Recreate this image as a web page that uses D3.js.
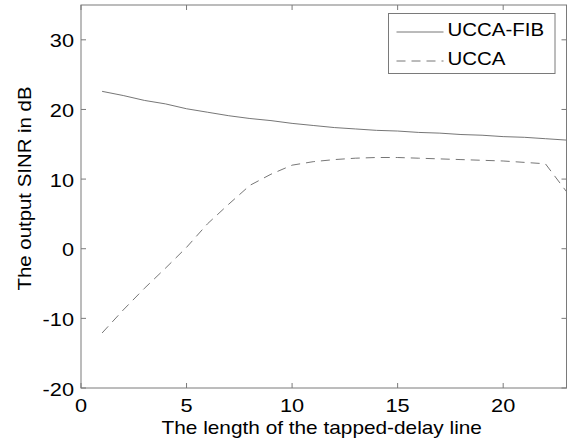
<!DOCTYPE html>
<html>
<head>
<meta charset="utf-8">
<script src="https://cdn.jsdelivr.net/npm/d3@7"></script>
<style>
  body { margin: 0; background: #fff; }
  svg { display: block; font-family: "Liberation Sans", Arial, sans-serif; }
  .axis-line { stroke: #7a7a7a; stroke-width: 1; fill: none; }
  .tick-label { font-size: 18.6px; fill: #000; }
  .axis-title { font-size: 17.8px; fill: #000; }
  .y-title { font-size: 19px; fill: #000; }
  .legend-text { font-size: 17.5px; fill: #000; }
</style>
</head>
<body>
<script>
// Data
var tapLengths = d3.range(1, 24); // 1..23
var uccaFib = [22.6, 22.0, 21.3, 20.8, 20.1, 19.6, 19.1, 18.7, 18.4, 18.0,
               17.7, 17.4, 17.2, 17.0, 16.9, 16.7, 16.6, 16.4, 16.3, 16.1,
               16.0, 15.8, 15.6];
var ucca = [-12.1, -8.8, -5.7, -2.8, 0.2, 3.6, 6.4, 9.1, 10.7, 12.0,
            12.5, 12.8, 13.0, 13.1, 13.1, 13.0, 12.9, 12.8, 12.7, 12.6,
            12.4, 12.2, 8.2];
var xTicks = [0, 5, 10, 15, 20];
var yTicks = [-20, -10, 0, 10, 20, 30];
var seriesNames = ["UCCA-FIB", "UCCA"];

// the reference text is a bit wider than plain Arial
function widen(sel, k) {
    sel.each(function() {
        var len = this.getComputedTextLength();
        d3.select(this)
            .attr("textLength", len * k)
            .attr("lengthAdjust", "spacingAndGlyphs");
    });
}

var sinrChart = {
    margin: { top: 5, right: 1.5, bottom: 55, left: 81 },
    get width() {
        return 568 - this.margin.left - this.margin.right;
    },
    get height() {
        return 443 - this.margin.top - this.margin.bottom;
    },
    tickLen: 5,
    stretch: 1.17,

    setupSVG: function() {
        this.svg = d3.select("body").append("svg")
            .attr("width", 568)
            .attr("height", 443)
            .append("g")
            .attr("transform", "translate(" + this.margin.left + "," + this.margin.top + ")");

        this.x = d3.scaleLinear().domain([0, 23]).range([0, this.width]);
        this.y = d3.scaleLinear().domain([-20, 35]).range([this.height, 0]);
    },

    drawAxes: function() {
        var svg = this.svg, x = this.x, y = this.y, w = this.width, h = this.height, t = this.tickLen;

        // ticks on all four sides, pointing inward (matlab box)
        svg.selectAll(".xtick-b").data(xTicks).enter().append("line")
            .attr("class", "axis-line")
            .attr("x1", d => x(d)).attr("x2", d => x(d))
            .attr("y1", h).attr("y2", h - t);
        svg.selectAll(".xtick-t").data(xTicks).enter().append("line")
            .attr("class", "axis-line")
            .attr("x1", d => x(d)).attr("x2", d => x(d))
            .attr("y1", 0).attr("y2", t);
        svg.selectAll(".ytick-l").data(yTicks).enter().append("line")
            .attr("class", "axis-line")
            .attr("x1", 0).attr("x2", t)
            .attr("y1", d => y(d)).attr("y2", d => y(d));
        svg.selectAll(".ytick-r").data(yTicks).enter().append("line")
            .attr("class", "axis-line")
            .attr("x1", w).attr("x2", w - t)
            .attr("y1", d => y(d)).attr("y2", d => y(d));

        svg.append("rect")
            .attr("class", "axis-line")
            .attr("x", 0).attr("y", 0)
            .attr("width", w).attr("height", h);

        // tick labels
        svg.selectAll(".xlab").data(xTicks).enter().append("text")
            .attr("class", "tick-label")
            .attr("x", d => x(d))
            .attr("y", h + 23.5)
            .attr("text-anchor", "middle")
            .text(d => d)
            .call(widen, this.stretch);
        svg.selectAll(".ylab").data(yTicks).enter().append("text")
            .attr("class", "tick-label")
            .attr("x", -7)
            .attr("y", d => y(d) + 7.5)
            .attr("text-anchor", "end")
            .text(d => d)
            .call(widen, this.stretch);

        // axis titles
        svg.append("text")
            .attr("class", "axis-title")
            .attr("x", w / 2 - 2)
            .attr("y", h + 46)
            .attr("text-anchor", "middle")
            .text("The length of the tapped-delay line")
            .call(widen, this.stretch);
        svg.append("text")
            .attr("class", "y-title")
            .attr("transform", "rotate(-90)")
            .attr("x", -183.5)
            .attr("y", -50.5)
            .attr("text-anchor", "middle")
            .attr("textLength", 204)
            .attr("lengthAdjust", "spacingAndGlyphs")
            .text("The output SINR in dB");
    },

    drawLines: function() {
        var line = d3.line()
            .x((d, i) => this.x(tapLengths[i]))
            .y(d => this.y(d));

        this.svg.append("path")
            .datum(uccaFib)
            .attr("fill", "none")
            .attr("stroke", "#666")
            .attr("stroke-width", 0.9)
            .attr("d", line);

        this.svg.append("path")
            .datum(ucca)
            .attr("fill", "none")
            .attr("stroke", "#666")
            .attr("stroke-width", 0.9)
            .attr("stroke-dasharray", "9,6")
            .attr("d", line);
    },

    drawLegend: function() {
        var lg = this.svg.append("g")
            .attr("transform", "translate(" + (388.5 - this.margin.left) + "," + (13.5 - this.margin.top) + ")");

        lg.append("rect")
            .attr("width", 166.5).attr("height", 60)
            .attr("fill", "#fff")
            .attr("stroke", "#7a7a7a");

        var dashes = [null, "9,6"];
        var rows = lg.selectAll(".row").data(seriesNames).enter().append("g")
            .attr("transform", (d, i) => "translate(0," + (18.5 + i * 29) + ")");

        rows.append("line")
            .attr("x1", 8).attr("x2", 55)
            .attr("y1", 0).attr("y2", 0)
            .attr("stroke", "#666")
            .attr("stroke-width", 0.9)
            .attr("stroke-dasharray", (d, i) => dashes[i]);

        rows.append("text")
            .attr("class", "legend-text")
            .attr("x", 59)
            .attr("y", 4)
            .text(d => d)
            .call(widen, this.stretch);
    },

    init: function() {
        this.setupSVG();
        this.drawLines();
        this.drawAxes();
        this.drawLegend();
    }
};

sinrChart.init();
</script>
</body>
</html>
